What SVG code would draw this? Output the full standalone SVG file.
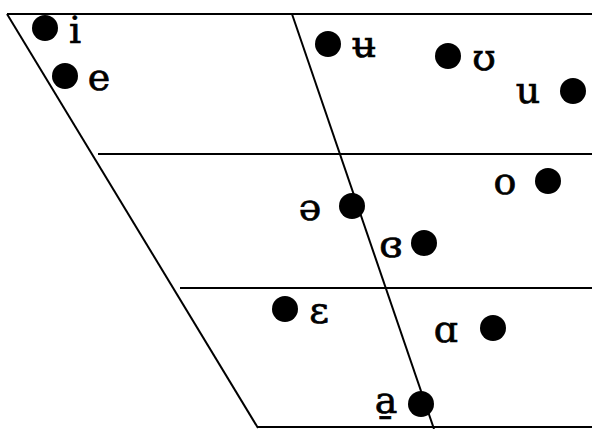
<svg xmlns="http://www.w3.org/2000/svg" width="592" height="429" viewBox="0 0 592 429">
<style>
.ln{stroke:#000;stroke-width:2;fill:none}
.dot{fill:#000}
.lb{font-family:"DejaVu Serif","Liberation Serif",serif;font-size:38px;fill:#000;stroke:#000;stroke-width:0.7;text-anchor:middle}
</style>
<rect width="592" height="429" fill="#fff"/>
<g id="connectors">
<line class="ln" x1="7" y1="14" x2="592" y2="14"/>
<line class="ln" x1="7" y1="14" x2="258" y2="428"/>
<line class="ln" x1="98" y1="154" x2="592" y2="154"/>
<line class="ln" x1="180" y1="288" x2="592" y2="288"/>
<line class="ln" x1="258" y1="427" x2="592" y2="427"/>
<line class="ln" x1="292" y1="14" x2="434" y2="429"/>
</g>
<g id="v-i"><circle class="dot" cx="45" cy="28" r="13"/><text class="lb" x="75" y="43">i</text></g>
<g id="v-e"><circle class="dot" cx="65" cy="76" r="13"/><text class="lb" x="99" y="90">e</text></g>
<g id="v-barred-u"><circle class="dot" cx="328" cy="44" r="13"/><text class="lb" x="364" y="57">ʉ</text></g>
<g id="v-upsilon"><circle class="dot" cx="448" cy="56" r="13"/><text class="lb" x="484" y="70">ʊ</text></g>
<g id="v-u"><circle class="dot" cx="573" cy="91" r="13"/><text class="lb" x="528" y="103">u</text></g>
<g id="v-o"><circle class="dot" cx="548" cy="181" r="13"/><text class="lb" x="505" y="194">o</text></g>
<g id="v-schwa"><circle class="dot" cx="352" cy="206" r="13"/><text class="lb" x="310" y="220">ə</text></g>
<g id="v-closed-rev-eps"><circle class="dot" cx="424" cy="243" r="13"/><text class="lb" x="391" y="257">ɞ</text></g>
<g id="v-epsilon"><circle class="dot" cx="285" cy="309" r="13"/><text class="lb" x="319" y="323">ɛ</text></g>
<g id="v-alpha"><circle class="dot" cx="493" cy="328" r="13"/><text class="lb" x="446" y="342">ɑ</text></g>
<g id="v-a-retracted"><circle class="dot" cx="421" cy="404" r="13"/><text class="lb" x="386" y="413">a̱</text></g>
</svg>
